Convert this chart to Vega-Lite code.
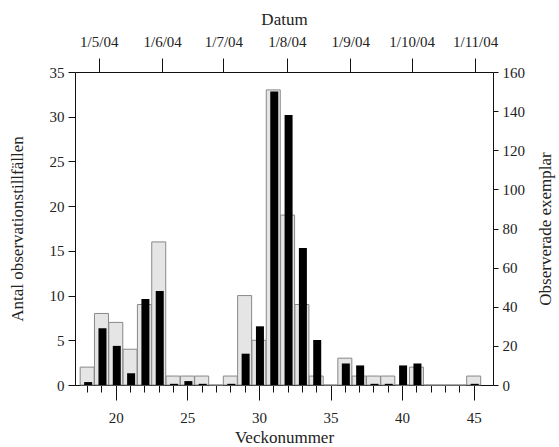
{
  "$schema": "https://vega.github.io/schema/vega-lite/v6.json",
  "width": 418,
  "height": 313,
  "autosize": "none",
  "padding": {"left": 75, "top": 72, "right": 66, "bottom": 62},
  "background": "white",
  "config": {
    "view": {"stroke": null},
    "font": "Liberation Serif",
    "axis": {
      "labelFont": "Liberation Serif",
      "titleFont": "Liberation Serif",
      "labelFontSize": 15,
      "titleFontSize": 17,
      "titleFontWeight": "normal",
      "labelColor": "#222",
      "titleColor": "#222",
      "domainColor": "#111",
      "tickColor": "#111",
      "grid": false
    }
  },
  "data": {
    "values": [
      {"week": 18, "antal": 2, "exemplar": 1.5},
      {"week": 19, "antal": 8, "exemplar": 29},
      {"week": 20, "antal": 7, "exemplar": 20},
      {"week": 21, "antal": 4, "exemplar": 6},
      {"week": 22, "antal": 9, "exemplar": 44},
      {"week": 23, "antal": 16, "exemplar": 48},
      {"week": 24, "antal": 1, "exemplar": 0.6},
      {"week": 25, "antal": 1, "exemplar": 2},
      {"week": 26, "antal": 1, "exemplar": 0.6},
      {"week": 27, "antal": 0, "exemplar": 0},
      {"week": 28, "antal": 1, "exemplar": 0.6},
      {"week": 29, "antal": 10, "exemplar": 16},
      {"week": 30, "antal": 5, "exemplar": 30},
      {"week": 31, "antal": 33, "exemplar": 150},
      {"week": 32, "antal": 19, "exemplar": 138},
      {"week": 33, "antal": 9, "exemplar": 70},
      {"week": 34, "antal": 1, "exemplar": 23},
      {"week": 35, "antal": 0, "exemplar": 0},
      {"week": 36, "antal": 3, "exemplar": 11},
      {"week": 37, "antal": 1, "exemplar": 10},
      {"week": 38, "antal": 1, "exemplar": 0.6},
      {"week": 39, "antal": 1, "exemplar": 0.6},
      {"week": 40, "antal": 0, "exemplar": 10},
      {"week": 41, "antal": 2, "exemplar": 11},
      {"week": 42, "antal": 0, "exemplar": 0},
      {"week": 43, "antal": 0, "exemplar": 0},
      {"week": 44, "antal": 0, "exemplar": 0},
      {"week": 45, "antal": 1, "exemplar": 0.6}
    ]
  },
  "layer": [
    {
      "mark": {"type": "bar", "size": 14, "fill": "#e5e5e5", "stroke": "#888888", "strokeWidth": 1},
      "encoding": {
        "x": {
          "field": "week", "type": "quantitative",
          "scale": {"domain": [17.5, 46], "nice": false, "zero": false},
          "axis": {
            "orient": "bottom",
            "title": "Veckonummer",
            "labelFont": "Liberation Serif",
            "values": [18,19,20,21,22,23,24,25,26,27,28,29,30,31,32,33,34,35,36,37,38,39,40,41,42,43,44,45],
            "labelExpr": "datum.value % 5 === 0 ? datum.value : ''",
            "tickSize": {"condition": {"test": "datum.value % 5 === 0", "value": 15}, "value": 7},
            "labelPadding": 10,
            "titlePadding": 4,
            "labelFlush": false,
            "labelOverlap": false
          }
        },
        "y": {
          "field": "antal", "type": "quantitative",
          "scale": {"domain": [0, 35], "nice": false},
          "axis": {
            "orient": "left",
            "title": "Antal observationstillfällen",
            "labelFont": "Liberation Serif",
            "values": [0, 5, 10, 15, 20, 25, 30, 35],
            "tickSize": 7,
            "labelPadding": 4,
            "titlePadding": 23
          }
        }
      }
    },
    {
      "mark": {"type": "bar", "size": 8, "fill": "#000", "xOffset": 1},
      "encoding": {
        "x": {
          "field": "week", "type": "quantitative",
          "scale": {"domain": [17.5, 46], "nice": false, "zero": false},
          "axis": {
            "orient": "top",
            "title": "Datum",
            "labelFont": "Liberation Serif",
            "values": [18.81, 23.24, 27.52, 31.95, 36.38, 40.67, 45.10],
            "labelExpr": "datum.value < 20 ? '1/5/04' : datum.value < 25 ? '1/6/04' : datum.value < 30 ? '1/7/04' : datum.value < 34 ? '1/8/04' : datum.value < 38 ? '1/9/04' : datum.value < 42 ? '1/10/04' : '1/11/04'",
            "tickSize": 14,
            "labelPadding": 9,
            "titlePadding": 6,
            "labelFlush": false,
            "labelOverlap": false
          }
        },
        "y": {
          "field": "exemplar", "type": "quantitative",
          "scale": {"domain": [0, 160], "nice": false},
          "axis": {
            "orient": "right",
            "title": "Observerade exemplar",
            "labelFont": "Liberation Serif",
            "titleAngle": 270,
            "values": [0, 20, 40, 60, 80, 100, 120, 140, 160],
            "tickSize": 5,
            "labelPadding": 4,
            "titlePadding": 30
          }
        }
      }
    }
  ],
  "resolve": {"scale": {"x": "independent", "y": "independent"}, "axis": {"x": "independent", "y": "independent"}}
}
